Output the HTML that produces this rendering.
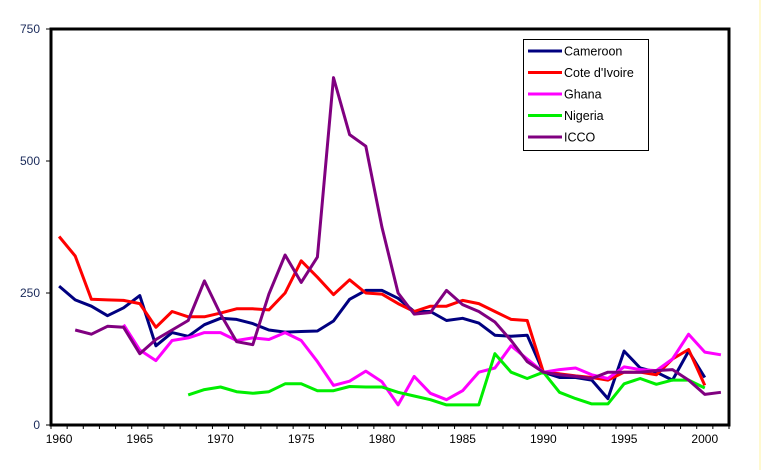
<!DOCTYPE html>
<html><head><meta charset="utf-8"><style>
body{margin:0;background:#fff}
svg{display:block;font-family:"Liberation Sans",sans-serif}
</style></head><body>
<svg id="c" width="762" height="470">
<line x1="760" y1="0" x2="760" y2="470" stroke="#fff3a0" stroke-width="1"/>
<g id="series"></g>
<rect x="51" y="29" width="678" height="396" fill="none" stroke="#000" stroke-width="3"/>
<g id="axes"></g>
<g>
<rect x="523.5" y="39.5" width="125" height="111" fill="#fff" stroke="#000" stroke-width="1"/>
<g id="legend"></g>
</g>
</svg>
<script>
const years=[];for(let y=1960;y<=2001;y++)years.push(y);
const yTicks=[0,250,500,750];
const xTickLabels=[1960,1965,1970,1975,1980,1985,1990,1995,2000];
const cameroon=[263,237,225,207,222,245,150,175,168,190,202,200,192,180,176,177,178,197,238,255,255,240,215,215,198,202,193,170,168,170,100,90,90,85,50,140,108,100,85,140,90,null];
const coteDIvoire=[357,320,238,237,236,230,185,215,205,205,212,220,220,218,250,311,280,247,275,250,248,230,215,225,225,236,230,215,200,198,100,97,93,90,85,100,100,95,125,143,75,null];
const ghana=[null,null,null,null,190,142,122,160,165,175,175,160,165,162,175,160,120,75,83,102,82,38,92,60,48,65,100,108,150,125,100,105,108,95,88,110,105,103,125,172,138,133];
const nigeria=[null,null,null,null,null,null,null,null,57,67,72,63,60,63,78,78,65,65,73,72,72,62,55,48,38,38,38,135,100,88,100,62,50,40,40,78,88,77,85,85,70,null];
const icco=[null,180,172,187,185,135,162,180,198,273,210,158,152,248,322,270,318,658,550,528,375,250,210,213,255,228,215,195,160,120,100,95,92,88,100,100,100,103,105,85,58,62];
const seriesNames=["Cameroon","Cote d'Ivoire","Ghana","Nigeria","ICCO"];
const seriesData=[cameroon,coteDIvoire,ghana,nigeria,icco];
const colors=["#000080","#ff0000","#ff00ff","#00ee00","#800080"];
const NS="http://www.w3.org/2000/svg";
const x0=51,x1=729,yB=425,yT=29;
const step=(x1-x0)/years.length;
const X=i=>x0+step*(i+0.5);
const Y=v=>yB-(v/750)*(yB-yT);
const sg=document.getElementById('series');
seriesData.forEach((d,k)=>{
  let p='';d.forEach((v,i)=>{if(v==null)return;p+=(p?'L':'M')+X(i).toFixed(1)+','+Y(v).toFixed(1);});
  const el=document.createElementNS(NS,'path');
  el.setAttribute('d',p);el.setAttribute('fill','none');el.setAttribute('stroke',colors[k]);
  el.setAttribute('stroke-width','3');el.setAttribute('stroke-linejoin','round');
  
  
  sg.appendChild(el);
});
const ag=document.getElementById('axes');
yTicks.forEach(t=>{
  const l=document.createElementNS(NS,'line');
  l.setAttribute('x1',x0-5);l.setAttribute('x2',x0);l.setAttribute('y1',Y(t));l.setAttribute('y2',Y(t));l.setAttribute('stroke','#000');
  
  
  ag.appendChild(l);
  const tx=document.createElementNS(NS,'text');
  tx.setAttribute('x',x0-11);tx.setAttribute('y',Y(t)+4);tx.setAttribute('text-anchor','end');tx.setAttribute('font-size','12');tx.setAttribute('fill','#1a2a5a');
  tx.textContent=t;
  
  
  ag.appendChild(tx);
});
for(let i=0;i<=years.length;i++){
  const l=document.createElementNS(NS,'line');
  const xx=x0+step*i;
  l.setAttribute('x1',xx);l.setAttribute('x2',xx);l.setAttribute('y1',yB);l.setAttribute('y2',yB+4);l.setAttribute('stroke','#000');
  
  
  ag.appendChild(l);
}
xTickLabels.forEach(y=>{
  const i=years.indexOf(y);
  const tx=document.createElementNS(NS,'text');
  tx.setAttribute('x',X(i));tx.setAttribute('y',yB+18);tx.setAttribute('text-anchor','middle');tx.setAttribute('font-size','12');tx.setAttribute('fill','#000');
  tx.textContent=y;
  
  
  ag.appendChild(tx);
});
const lg=document.getElementById('legend');
seriesNames.forEach((n,k)=>{
  const yy=51+k*21.5;
  const l=document.createElementNS(NS,'line');
  l.setAttribute('x1',528);l.setAttribute('x2',562);l.setAttribute('y1',yy);l.setAttribute('y2',yy);l.setAttribute('stroke',colors[k]);l.setAttribute('stroke-width','3');
  
  
  lg.appendChild(l);
  const tx=document.createElementNS(NS,'text');
  tx.setAttribute('x',564);tx.setAttribute('y',yy+4.5);tx.setAttribute('font-size','12.5');tx.setAttribute('fill','#000');
  tx.textContent=n;
  
  
  lg.appendChild(tx);
});
</script>
</body></html>
